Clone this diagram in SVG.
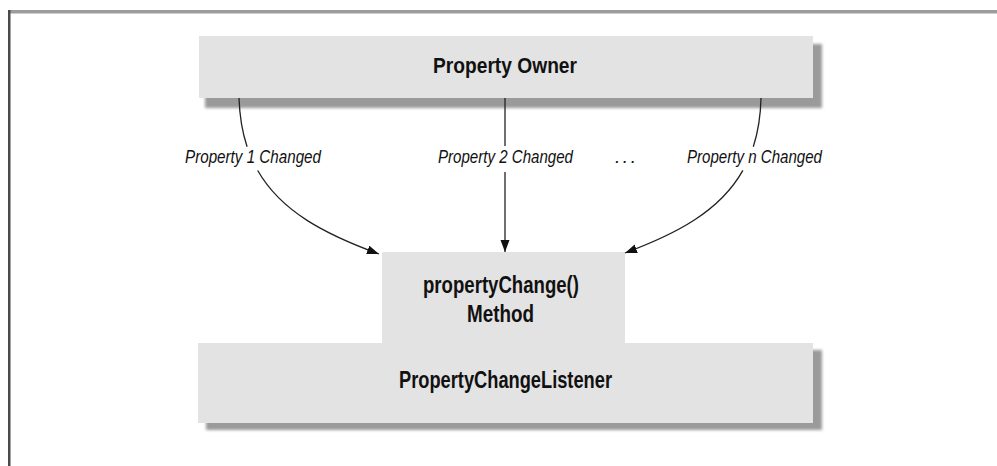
<svg xmlns="http://www.w3.org/2000/svg" width="997" height="466" viewBox="0 0 997 466">
<style>
.box{fill:#e3e3e3}
.shadow{fill:#9a9a9a;filter:url(#blur)}
.title{font-family:"Liberation Sans",Arial,sans-serif;font-weight:bold;fill:#111}
.lbl{font-family:"Liberation Sans",Arial,sans-serif;font-style:italic;font-size:19px;fill:#111}
.conn{fill:none;stroke:#222;stroke-width:1.3}
</style>
<defs>
<filter id="blur" x="-5%" y="-20%" width="110%" height="140%"><feGaussianBlur stdDeviation="1.6"/></filter>
<marker id="arr" markerUnits="userSpaceOnUse" markerWidth="14" markerHeight="10" refX="12" refY="4.5" orient="auto"><path d="M0,0 L12,4.5 L0,9 Z" fill="#111"/></marker>
</defs>
<rect x="0" y="0" width="997" height="466" fill="#fff"/>
<g id="frame">
<rect x="8" y="10" width="989" height="3.5" fill="#9c9c9c"/>
<rect x="8" y="10" width="2.5" height="456" fill="#4a4a4a"/>
</g>
<g id="owner">
<rect class="shadow" x="205" y="44" width="617" height="64"/>
<rect class="box" x="199" y="36" width="614" height="62"/>
<text class="title" x="505" y="73" font-size="22" text-anchor="middle" textLength="144" lengthAdjust="spacingAndGlyphs">Property Owner</text>
</g>
<g id="listener">
<rect class="shadow" x="206" y="350" width="616" height="80"/>
<rect class="box" x="198" y="343" width="615" height="80"/>
<text class="title" x="505.5" y="388" font-size="24" text-anchor="middle" textLength="213" lengthAdjust="spacingAndGlyphs">PropertyChangeListener</text>
</g>
<g id="method">
<rect class="box" x="382" y="252" width="243" height="92"/>
<text class="title" x="501" y="293" font-size="24" text-anchor="middle" textLength="156" lengthAdjust="spacingAndGlyphs">propertyChange()</text>
<text class="title" x="500.5" y="322" font-size="24" text-anchor="middle" textLength="67" lengthAdjust="spacingAndGlyphs">Method</text>
</g>
<g id="connectors">
<path class="conn" d="M239,98 C239.6,116.4 242.4,132.5 247.1,146.8"/>
<path class="conn" d="M257.7,170.5 C281.3,211.8 325.3,234.3 379,254" marker-end="url(#arr)"/>
<path class="conn" d="M505,98 V146"/>
<path class="conn" d="M505,172 V252" marker-end="url(#arr)"/>
<path class="conn" d="M761,98 C760.6,116.4 757.9,132.5 753.3,146.7"/>
<path class="conn" d="M742.9,170.4 C719.6,211.7 676,234 625,253" marker-end="url(#arr)"/>
<text class="lbl" x="253" y="163" text-anchor="middle" textLength="136" lengthAdjust="spacingAndGlyphs">Property 1 Changed</text>
<text class="lbl" x="505.5" y="163" text-anchor="middle" textLength="135" lengthAdjust="spacingAndGlyphs">Property 2 Changed</text>
<text class="lbl" x="625.5" y="163" text-anchor="middle" textLength="21" lengthAdjust="spacing">. . .</text>
<text class="lbl" x="754.5" y="163" text-anchor="middle" textLength="135" lengthAdjust="spacingAndGlyphs">Property n Changed</text>
</g>
</svg>
